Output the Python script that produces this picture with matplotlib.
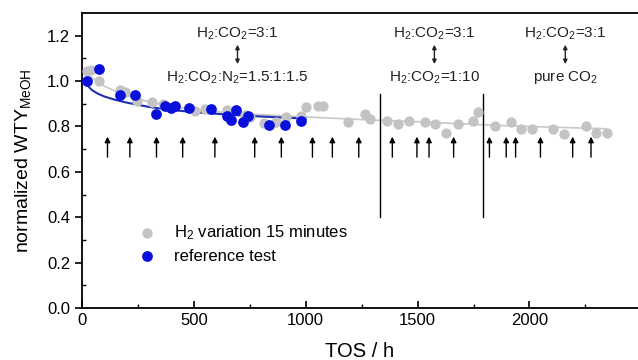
import numpy as np
import matplotlib.pyplot as plt

plt.rcParams['font.family'] = ['Liberation Sans', 'DejaVu Sans']
plt.rcParams['mathtext.default'] = 'regular'

# H2 variation 15 minutes (grey)
tos_var = [21, 40, 78, 168, 192, 244, 311, 363, 504, 552, 646, 668, 730, 750,
           814, 865, 914, 981, 1003, 1055, 1075, 1189, 1263, 1289, 1363, 1412,
           1460, 1531, 1579, 1628, 1679, 1747, 1769, 1845, 1916, 1963, 2010,
           2107, 2156, 2253, 2298, 2345]
wty_var = [1.046, 1.049, 1.002, 0.960, 0.951, 0.914, 0.907, 0.898, 0.869, 0.876,
           0.873, 0.830, 0.850, 0.841, 0.816, 0.821, 0.843, 0.844, 0.886, 0.890,
           0.890, 0.818, 0.853, 0.834, 0.822, 0.812, 0.823, 0.820, 0.809, 0.771,
           0.811, 0.825, 0.862, 0.800, 0.818, 0.788, 0.788, 0.787, 0.768, 0.801,
           0.772, 0.771]

# reference test (blue)
tos_ref = [24, 75, 172, 237, 333, 370, 400, 415, 478, 575, 646, 668, 690, 720,
           742, 838, 909, 981]
wty_ref = [0.999, 1.054, 0.940, 0.937, 0.855, 0.892, 0.882, 0.888, 0.880, 0.876,
           0.848, 0.829, 0.873, 0.820, 0.848, 0.805, 0.808, 0.823]

# trend lines
fit_var_x = [20, 50, 100, 150, 200, 300, 400, 500, 700, 1000, 1300, 1500, 1800, 2000, 2340]
fit_var_y = [1.035, 1.01, 0.978, 0.955, 0.937, 0.908, 0.888, 0.874, 0.857, 0.842,
             0.828, 0.821, 0.807, 0.800, 0.790]
fit_ref_x = [20, 30, 45, 70, 100, 150, 200, 300, 400, 500, 700, 900, 1000]
fit_ref_y = [0.99, 0.975, 0.96, 0.945, 0.932, 0.917, 0.905, 0.886, 0.873, 0.863,
             0.849, 0.839, 0.835]

# gas switch arrows
arrow_tos = [114, 214, 333, 450, 594, 772, 891, 1030, 1119, 1237, 1387, 1497,
             1551, 1661, 1821, 1896, 1938, 2049, 2193, 2275]
phase_bounds = [1330, 1792]
labels_top = ['H$_2$:CO$_2$=3:1', 'H$_2$:CO$_2$=3:1', 'H$_2$:CO$_2$=3:1']
labels_bottom = ['H$_2$:CO$_2$:N$_2$=1.5:1:1.5', 'H$_2$:CO$_2$=1:10', 'pure CO$_2$']
label_tos = [695, 1575, 2160]

fig = plt.figure(figsize=(6.38, 3.6), dpi=100)
ax = fig.add_axes([0.1285, 0.1444, 0.8715, 0.8195])

ax.plot(fit_var_x, fit_var_y, color='#c8c8c8', lw=1.2, zorder=2)
ax.plot(fit_ref_x, fit_ref_y, color='#2030b0', lw=1.5, zorder=2)
ax.scatter(tos_var, wty_var, s=55, color='#c3c3c3', lw=0, zorder=3,
           label='H$_2$ variation 15 minutes')
ax.scatter(tos_ref, wty_ref, s=60, color='#0a10dc', lw=0, zorder=3,
           label='reference test')

for t in arrow_tos:
    ax.annotate('', xy=(t, 0.755), xytext=(t, 0.665),
                arrowprops=dict(arrowstyle='-|>', color='black', lw=1.0,
                                mutation_scale=8, shrinkA=0, shrinkB=0))
for b in phase_bounds:
    ax.plot([b, b], [0.40, 0.945], color='black', lw=1.0)

for t, top, bot in zip(label_tos, labels_top, labels_bottom):
    ax.text(t, 1.21, top, ha='center', va='center', fontsize=11, color='#222222')
    ax.text(t, 1.015, bot, ha='center', va='center', fontsize=11, color='#222222')
    ax.annotate('', xy=(t, 1.16), xytext=(t, 1.075),
                arrowprops=dict(arrowstyle='<|-|>', color='#222222', lw=1.0,
                                mutation_scale=6, shrinkA=0, shrinkB=0))

ax.set_xlim(0, 2485)
ax.set_ylim(0, 1.3)
ax.set_xticks([0, 500, 1000, 1500, 2000])
ax.set_xticks([250, 750, 1250, 1750, 2250], minor=True)
ax.set_yticks([0.0, 0.2, 0.4, 0.6, 0.8, 1.0, 1.2])
ax.set_yticklabels(['0.0', '0.2', '0.4', '0.6', '0.8', '1.0', '1.2'])
ax.set_yticks(np.arange(0.1, 1.3, 0.2), minor=True)
ax.tick_params(axis='x', which='major', direction='in', length=5, width=1.2, labelsize=12)
ax.tick_params(axis='x', which='minor', direction='in', length=3, width=1.0)
ax.tick_params(axis='y', which='major', direction='out', length=5, width=1.2, labelsize=12)
ax.tick_params(axis='y', which='minor', direction='in', length=3, width=1.0)
ax.spines['right'].set_visible(False)
for s in ['left', 'bottom', 'top']:
    ax.spines[s].set_linewidth(1.3)

ax.set_xlabel('TOS / h', fontsize=14.5, labelpad=10)
ax.set_ylabel('normalized WTY$_{MeOH}$', fontsize=14, labelpad=10)

ax.legend(loc='lower left', bbox_to_anchor=(0.06, 0.1), frameon=False,
          fontsize=12, handletextpad=0.6, labelspacing=0.4, markerscale=1.0)

fig.savefig('out.png', dpi=100)
